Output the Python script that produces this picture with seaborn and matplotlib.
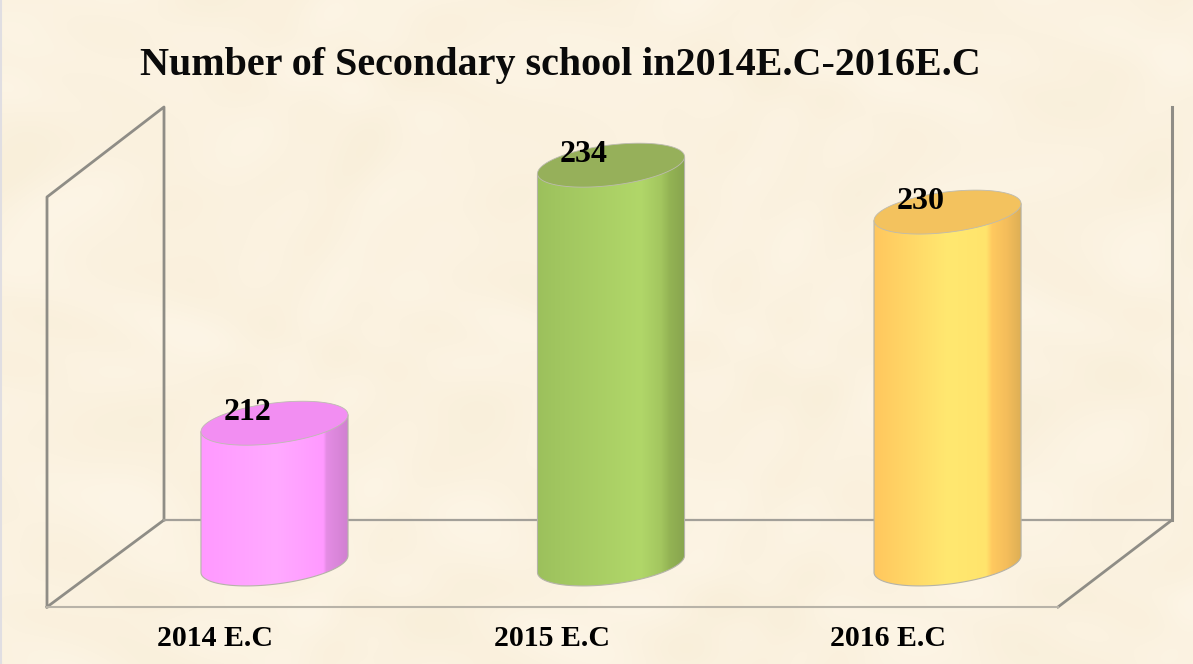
import numpy as np
import pandas as pd
import seaborn as sns
import matplotlib.pyplot as plt
from matplotlib.colors import to_rgb
from matplotlib.patches import Polygon
from matplotlib.lines import Line2D

years = ["2014 E.C", "2015 E.C", "2016 E.C"]
schools = [212, 234, 230]
title = "Number of Secondary school in2014E.C-2016E.C"

# shading across each cylinder, left to right
pink_stops = [(0, "#ff99ff"), (0.5, "#ffaaff"), (0.83, "#ff99ff"), (0.85, "#e48ce4"), (1, "#d080d0")]
green_stops = [(0, "#9cc05c"), (0.12, "#a0c55f"), (0.7, "#b1d769"), (0.84, "#a3c65f"), (0.9, "#93b354"), (1, "#88a54e")]
yellow_stops = [(0, "#ffc75e"), (0.5, "#ffe870"), (0.76, "#ffe46c"), (0.8, "#ffc95f"), (0.9, "#f4bd5b"), (1, "#dcae55")]
stops = [pink_stops, green_stops, yellow_stops]
top_colors = ["#f28ef2", "#96b05a", "#f3c25e"]
front_colors = ["#ffaaff", "#b1d769", "#ffe870"]

W, H = 1193, 664
y_base = 200
wall = "#8f8d86"

sns.set_theme(style="white")
plt.rcParams["font.family"] = ["Liberation Serif", "DejaVu Serif"]
plt.rcParams["font.weight"] = "bold"

fig = plt.figure(figsize=(W / 100, H / 100), dpi=100, facecolor="#fbf1dc")

# parchment background, soft blotches made from waves
bg = fig.add_axes([0, 0, 1, 1], zorder=0)
yy, xx = np.mgrid[0:H, 0:W]
blotch = (np.sin(xx / 47 + np.sin(yy / 31) * 2) + np.sin(yy / 39 + np.sin(xx / 53) * 2)
          + 0.7 * np.sin((xx + yy) / 23 + np.cos(xx / 71) * 3) + 0.7 * np.sin((xx - yy) / 29 + np.cos(yy / 43) * 3))
blotch = blotch / np.abs(blotch).max()
tex = np.zeros((H, W, 3))
for i, (base, amp) in enumerate(zip((251, 242, 224), (2, 3, 6))):
    tex[:, :, i] = (base + amp * blotch) / 255
bg.imshow(tex, aspect="auto", extent=(0, W, H, 0), interpolation="bilinear")
bg.set_axis_off()
fig.add_artist(Line2D([0.0008, 0.0008], [0, 1], color="#e0dee2", lw=1.5))

# axes box is the 3D frame's bounding box
ax = fig.add_axes([47 / W, 1 - 607 / H, (1172 - 47) / W, (607 - 107) / H], zorder=1)
ax.patch.set_alpha(0)

df = pd.DataFrame({"year": years, "schools": schools})
sns.barplot(data=df, x="year", y="schools", hue="year", palette=front_colors, legend=False,
            dodge=False, width=0.437, ax=ax, zorder=3)
ax.set_xlim(-0.676, 2.667)
ax.set_ylim(196.33, 238.96)

# frame lines in axes fractions
def frame_line(x_px, y_px, lw, color=wall):
    fx = [(x - 47) / 1125 for x in x_px]
    fy = [(607 - y) / 500 for y in y_px]
    ax.plot(fx, fy, transform=ax.transAxes, color=color, lw=lw, clip_on=False, zorder=1,
            solid_capstyle="projecting")

frame_line([47, 47, 164, 164], [607, 197, 107, 520], 2.0)
frame_line([47, 164], [607, 520], 2.0)
frame_line([164, 1172], [520, 520], 1.6, "#a3a099")
frame_line([1172, 1172], [107, 520], 2.2)
frame_line([1172, 1058], [520, 607], 2.0)
frame_line([47, 1058], [607, 607], 1.5, "#b8b3a8")

tilt = 0.72
ry = 1.73
for i, bar in enumerate(ax.patches):
    value = bar.get_height()
    cx = bar.get_x() + bar.get_width() / 2
    rx = bar.get_width() / 2
    bar.set_y(y_base)
    bar.set_height(value - y_base)

    t = np.linspace(np.pi, 2 * np.pi, 60)
    low_x = cx + rx * np.cos(t)
    low_y = y_base + tilt * np.cos(t) + ry * np.sin(t)
    body = Polygon(np.column_stack([low_x, low_y]).tolist()
                   + [[cx + rx, value + tilt], [cx - rx, value - tilt]],
                   closed=True, facecolor="none", edgecolor="#b5b3a8", lw=0.8, zorder=5)
    ax.add_patch(body)
    bar.set_clip_path(body)

    fr = np.linspace(0, 1, 200)
    pos = [s[0] for s in stops[i]]
    rgb = np.array([to_rgb(s[1]) for s in stops[i]])
    grad = np.stack([np.interp(fr, pos, rgb[:, c]) for c in range(3)], axis=-1)[np.newaxis, :, :]
    im = ax.imshow(grad, aspect="auto", extent=(cx - rx, cx + rx, y_base - 3, value + 3),
                   zorder=4, interpolation="bilinear")
    im.set_clip_path(body)

    t = np.linspace(0, 2 * np.pi, 120)
    lid = Polygon(np.column_stack([cx + rx * np.cos(t), value + tilt * np.cos(t) + ry * np.sin(t)]),
                  closed=True, facecolor=top_colors[i], edgecolor="#bdbbb0", lw=0.6, zorder=6)
    ax.add_patch(lid)

    ax.text(cx - 0.081, value + 0.9, str(schools[i]), ha="center", va="center",
            fontsize=23, fontweight="bold", color="black", zorder=7)

ax.set_xlim(-0.676, 2.667)
ax.set_ylim(196.33, 238.96)
ax.set_xticks([k - 0.176 for k in range(len(years))])
ax.set_xticklabels(years, fontsize=21.5, fontweight="bold", color="black")
ax.tick_params(axis="x", length=0, pad=13)
ax.set_yticks([])
ax.set_xlabel("")
ax.set_ylabel("")
sns.despine(ax=ax, left=True, bottom=True)

fig.text(140 / W, 1 - 65 / H, title, fontsize=28.9, fontweight="bold", color="#0a0a0a",
         ha="left", va="center", zorder=3)

fig.savefig("out.png", dpi=100)
